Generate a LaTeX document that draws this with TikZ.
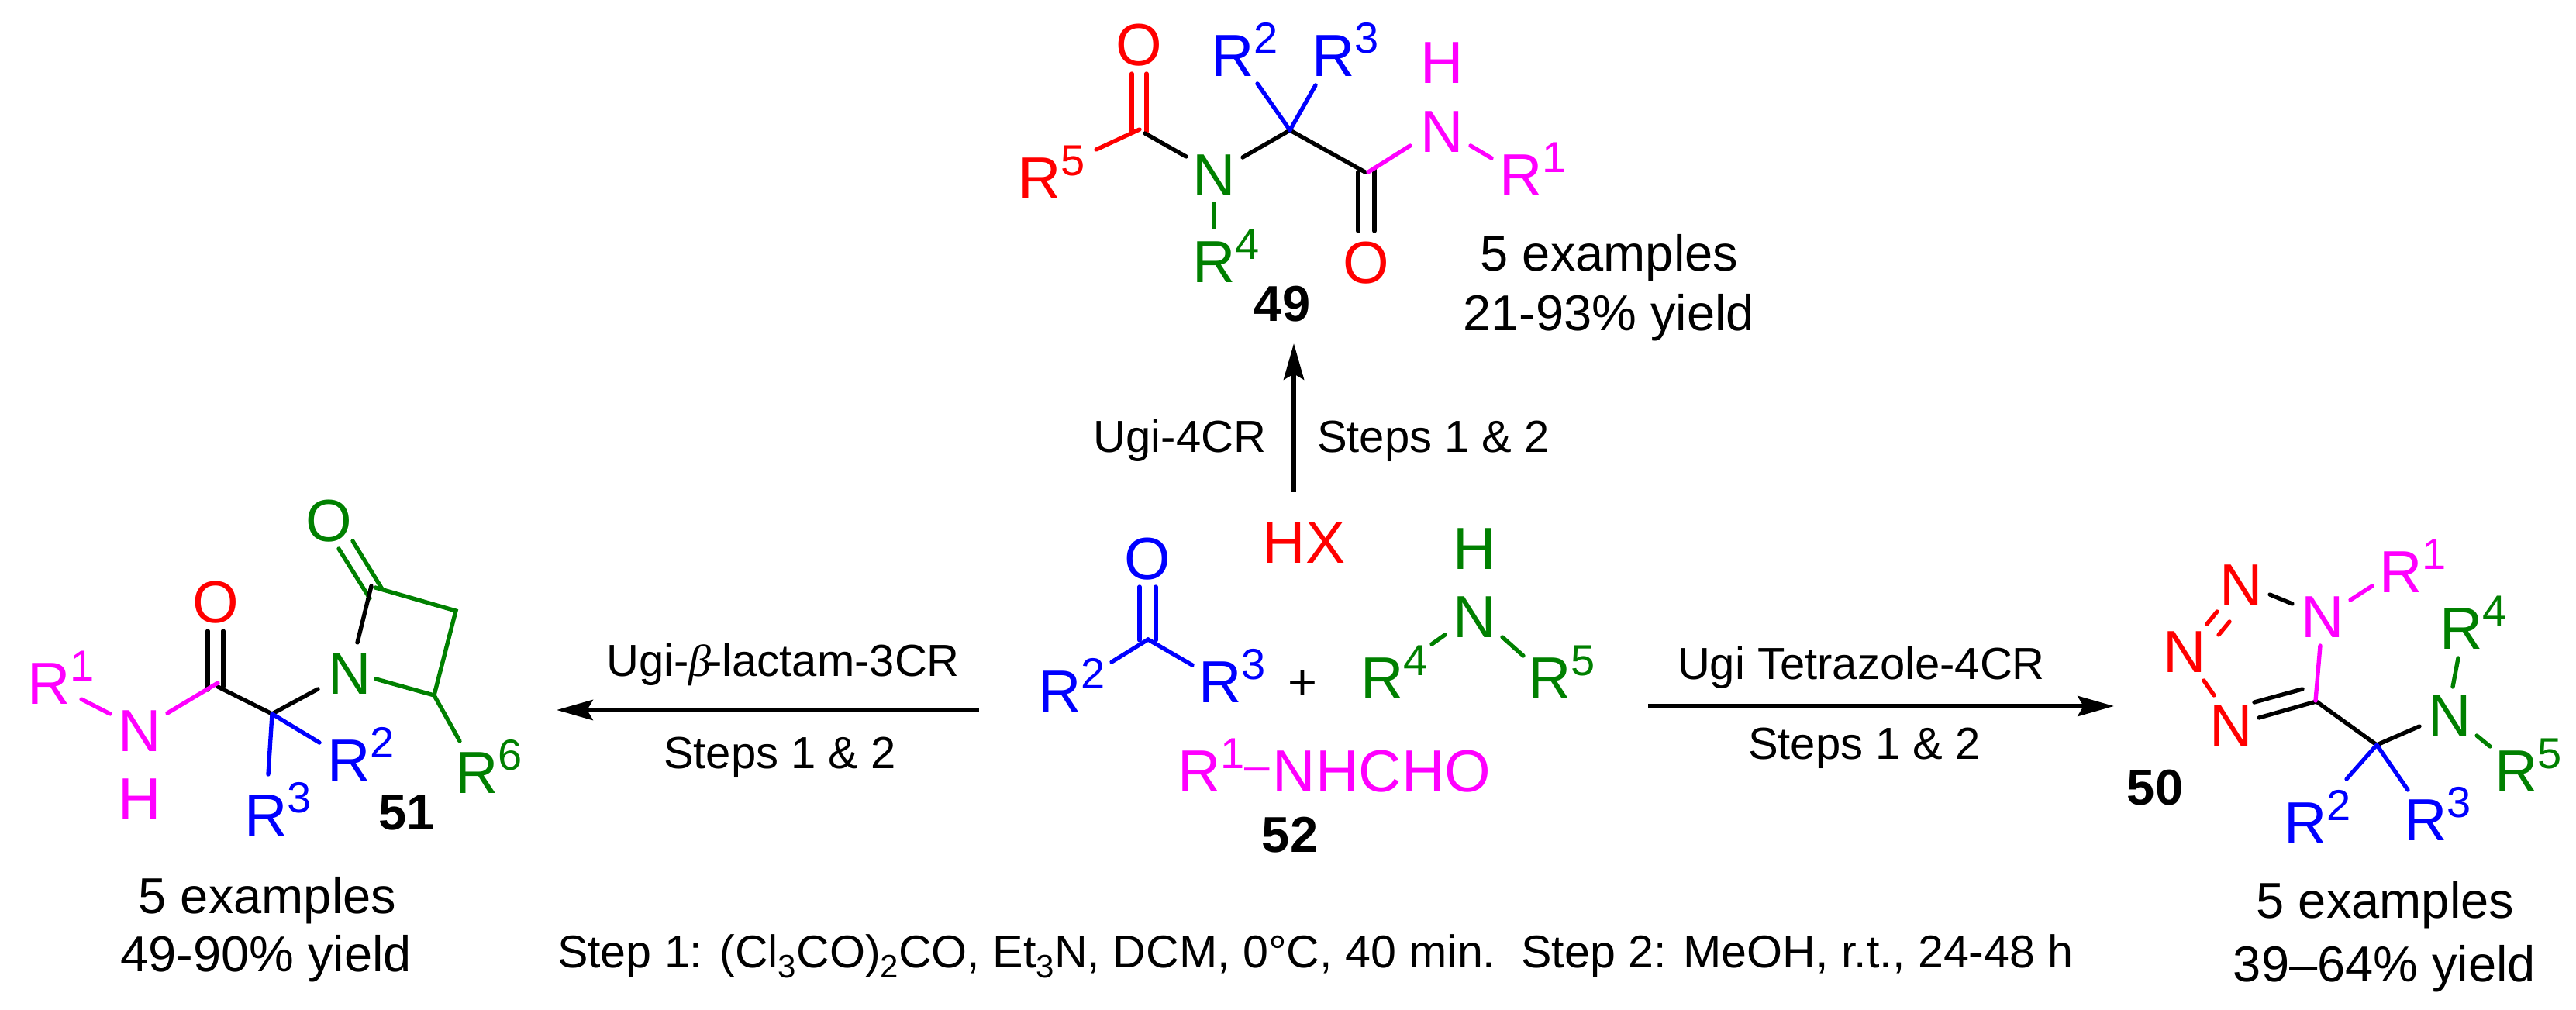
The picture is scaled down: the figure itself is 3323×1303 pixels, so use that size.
\documentclass[tikz,border=0pt]{standalone}
\usepackage{fontspec}
\setmainfont{Liberation Sans}
\newfontfamily\betafont{Liberation Serif}
\usetikzlibrary{arrows.meta}
\definecolor{cred}{HTML}{FF0000}
\definecolor{cblue}{HTML}{0000FF}
\definecolor{cmag}{HTML}{FF00FF}
\definecolor{cgreen}{HTML}{008000}
\newcommand{\atomfs}{\fontsize{23}{23}\selectfont}
\newcommand{\supfs}{\fontsize{16.8}{16.8}\selectfont}
\newcommand{\Rg}[1]{R\raisebox{9.2pt}{\supfs #1}}
\newcommand{\subs}[1]{\raisebox{-3.7pt}{\fontsize{12.6}{12.6}\selectfont #1}}
\tikzset{
  atom/.style={inner sep=0pt,outer sep=0pt,anchor=base,font=\atomfs},
  rgroup/.style={inner sep=0pt,outer sep=0pt,anchor=base west,font=\atomfs},
  yieldtxt/.style={inner sep=0pt,outer sep=0pt,anchor=base,font=\fontsize{19.5}{19.5}\selectfont},
  cpd/.style={inner sep=0pt,outer sep=0pt,anchor=base,font=\fontsize{19.5}{19.5}\selectfont\bfseries},
  cond/.style={inner sep=0pt,outer sep=0pt,anchor=base,font=\fontsize{17.4}{17.4}\selectfont},
  bond/.style={line width=1.6pt,line cap=round},
  rxn/.style={line width=1.8pt,-{Stealth[length=14pt,width=7.8pt,inset=2.2pt]}}
}
\begin{document}
\begin{tikzpicture}[x=0.3pt,y=-0.3pt]
\useasboundingbox (0,0) rectangle (3323,1303);
% ---------- 49 ----------
\node[atom,cred] (o49a) at (1469,85) {O};
\node[rgroup,cred] (r5a) at (1313,257) {\Rg{5}};
\node[atom,cgreen] (n49) at (1566,253) {N};
\node[rgroup,cblue] (r2a) at (1562,99) {\Rg{2}};
\node[rgroup,cblue] (r3a) at (1692,99) {\Rg{3}};
\node[atom,cmag] (h49) at (1860,108) {H};
\node[atom,cmag] (n49b) at (1860,197) {N};
\node[rgroup,cmag] (r1a) at (1934,253) {\Rg{1}};
\node[rgroup,cgreen] (r4a) at (1538,365) {\Rg{4}};
\node[atom,cred] (o49b) at (1762,366) {O};
\node[cpd] (c49) at (1654,415) {49};
\node[yieldtxt] (y49a) at (2076,350) {5 examples};
\node[yieldtxt] (y49b) at (2075,427) {21-93\% yield};
\draw[bond,cred] (1460,95)--(1460,170) (1479,95)--(1479,170);
\draw[bond,cred] (1470,167)--(1414,193);
\draw[bond] (1477,172)--(1530,202);
\draw[bond] (1603,203)--(1664,168)--(1761,222);
\draw[bond,cblue] (1664,168)--(1622,108) (1664,168)--(1697,110);
\draw[bond] (1752,222)--(1752,298) (1773,217)--(1773,298);
\draw[bond,cmag] (1765,222)--(1819,188);
\draw[bond,cmag] (1897,188)--(1924,204);
\draw[bond,cgreen] (1566,263)--(1566,293);
% ---------- reagents 52 ----------
\node[atom,cred] (hx) at (1682,727) {HX};
\node[atom,cblue] (ok) at (1480,748) {O};
\node[rgroup,cblue] (r2k) at (1339,919) {\Rg{2}};
\node[rgroup,cblue] (r3k) at (1546,907) {\Rg{3}};
\node[inner sep=0pt,anchor=center,font=\fontsize{19.5}{19.5}\selectfont] (plus) at (1680,884) {+};
\node[atom,cgreen] (ham) at (1902,735) {H};
\node[atom,cgreen] (nam) at (1902,823) {N};
\node[rgroup,cgreen] (r4m) at (1755,902) {\Rg{4}};
\node[rgroup,cgreen] (r5m) at (1971,902) {\Rg{5}};
\node[rgroup,cmag] (iso) at (1519,1022) {\Rg{1}\raisebox{4.2pt}{\fontsize{17.5}{17.5}\selectfont –}\kern1.2ptNHCHO};
\node[cpd] (c52) at (1664,1100) {52};
\draw[bond,cblue] (1470,757)--(1470,826) (1491,757)--(1491,826);
\draw[bond,cblue] (1434,854)--(1481,825)--(1538,858);
\draw[bond,cgreen] (1864,819)--(1847,831) (1938,822)--(1965,846);
% ---------- 51 ----------
\node[atom,cgreen] (o51a) at (424,699) {O};
\node[atom,cred] (o51b) at (278,804) {O};
\node[atom,cgreen] (n51) at (451,896) {N};
\node[atom,cmag] (n51b) at (180,970) {N};
\node[atom,cmag] (h51) at (180,1058) {H};
\node[rgroup,cmag] (r1l) at (35,909) {\Rg{1}};
\node[rgroup,cblue] (r2l) at (422,1008) {\Rg{2}};
\node[rgroup,cblue] (r3l) at (315,1079) {\Rg{3}};
\node[rgroup,cgreen] (r6l) at (587,1024) {\Rg{6}};
\node[cpd] (c51) at (525,1071) {51};
\node[yieldtxt] (y51a) at (345,1179) {5 examples};
\node[yieldtxt] (y51b) at (343,1254) {49-90\% yield};
\draw[bond,cgreen] (437,708)--(477,772) (455,698)--(493,760);
\draw[bond,cgreen] (484,758)--(588,788)--(560,897)--(485,876);
\draw[bond] (479,756)--(461,829);
\draw[bond] (410,889)--(351,921)--(281,886);
\draw[bond] (268,814)--(268,890) (288,814)--(288,886);
\draw[bond,cmag] (281,881)--(216,920) (142,921)--(105,902);
\draw[bond,cblue] (351,921)--(412,958) (351,921)--(346,999);
\draw[bond,cgreen] (560,897)--(593,956);
% ---------- 50 ----------
\node[atom,cred] (n1) at (2891,782) {N};
\node[atom,cmag] (n2) at (2996,823) {N};
\node[atom,cred] (n3) at (2818,868) {N};
\node[atom,cred] (n4) at (2878,963) {N};
\node[atom,cgreen] (n5) at (3160,950) {N};
\node[rgroup,cmag] (r1r) at (3069,765) {\Rg{1}};
\node[rgroup,cgreen] (r4r) at (3147,838) {\Rg{4}};
\node[rgroup,cgreen] (r5r) at (3218,1022) {\Rg{5}};
\node[rgroup,cblue] (r2r) at (2946,1089) {\Rg{2}};
\node[rgroup,cblue] (r3r) at (3101,1085) {\Rg{3}};
\node[cpd] (c50) at (2780,1039) {50};
\node[yieldtxt] (y50a) at (3077,1185) {5 examples};
\node[yieldtxt] (y50b) at (3076,1267) {39–64\% yield};
\draw[bond] (2928,767)--(2957,779);
\draw[bond,cred] (2860,789)--(2847,805) (2876,802)--(2862,819);
\draw[bond,cred] (2843,878)--(2856,897);
\draw[bond] (2908,906)--(2970,889);
\draw[bond] (2914,926)--(2988,905)--(3066,961)--(3121,937);
\draw[bond,cmag] (2993,833)--(2987,904) (3032,774)--(3060,756);
\draw[bond,cgreen] (3171,849)--(3164,886) (3195,949)--(3212,963);
\draw[bond,cblue] (3066,961)--(3027,1005) (3066,961)--(3106,1019);
% ---------- arrows ----------
\coordinate (aup0) at (1669,635);
\coordinate (aup1) at (1669,443);
\coordinate (al0) at (1263,916);
\coordinate (al1) at (718,916);
\coordinate (ar0) at (2126,911);
\coordinate (ar1) at (2727,911);
\draw[rxn] (aup0)--(aup1);
\draw[rxn] (al0)--(al1);
\draw[rxn] (ar0)--(ar1);
% ---------- labels ----------
\node[cond] (t1) at (1522,584) {Ugi-4CR};
\node[cond] (t2) at (1849,584) {Steps 1 \& 2};
\node[cond] (t3) at (1010,873) {Ugi-{\betafont\itshape β}\kern-1.5pt-lactam-3CR};
\node[cond] (t4) at (1006,992) {Steps 1 \& 2};
\node[cond] (t5) at (2401,877) {Ugi Tetrazole-4CR};
\node[cond] (t6) at (2405,980) {Steps 1 \& 2};
\node[inner sep=0pt,outer sep=0pt,anchor=base west,font=\fontsize{17.75}{17.75}\selectfont] (t7) at (719,1249) {Step 1: (Cl\subs{3}CO)\subs{2}CO, Et\subs{3}N, DCM, 0°C, 40 min.\ \ Step 2: MeOH, r.t., 24-48 h};
\end{tikzpicture}
\end{document}
